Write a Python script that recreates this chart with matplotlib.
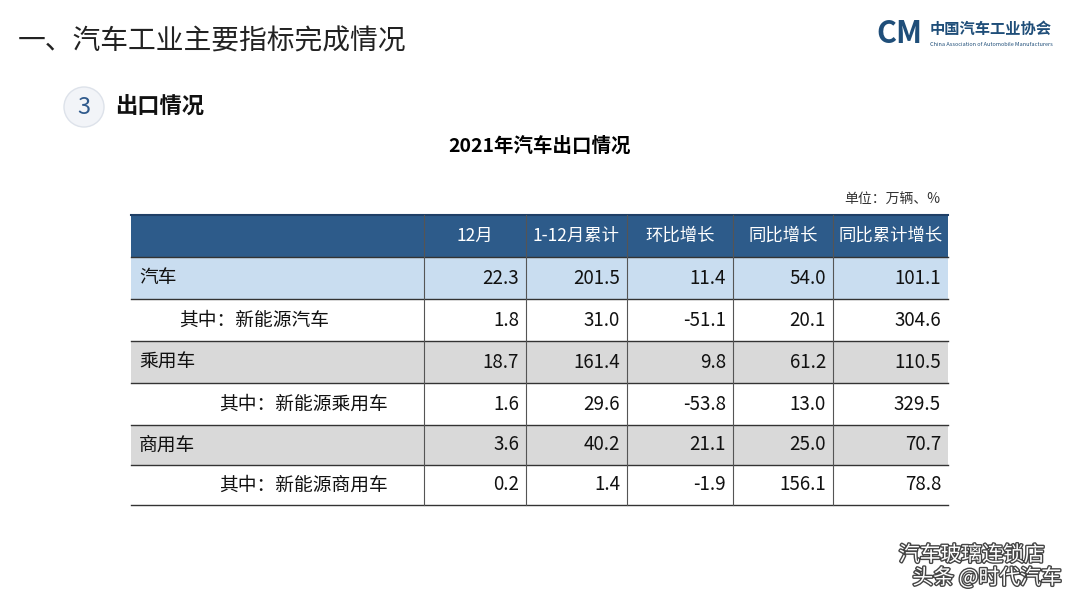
import matplotlib
matplotlib.use('Agg')
from matplotlib import pyplot as plt
from matplotlib import patheffects
from matplotlib.patches import Rectangle, Circle

plt.rcParams['font.family'] = ['Noto Sans CJK SC', 'DejaVu Sans']

#--- data ---#
columns = ['12月', '1-12月累计', '环比增长', '同比增长', '同比累计增长']
row_labels = ['汽车', '其中：新能源汽车', '乘用车', '其中：新能源乘用车', '商用车', '其中：新能源商用车']
dec = [22.3, 1.8, 18.7, 1.6, 3.6, 0.2]
ytd = [201.5, 31.0, 161.4, 29.6, 40.2, 1.4]
mom = [11.4, -51.1, 9.8, -53.8, 21.1, -1.9]
yoy = [54.0, 20.1, 61.2, 13.0, 25.0, 156.1]
yoy_ytd = [101.1, 304.6, 110.5, 329.5, 70.7, 78.8]

#--- layout (pixels) ---#
col_x = [131, 424, 526, 627, 733, 833, 948]
row_y = [215, 257, 299, 341, 383, 425, 465, 505]
label_indent = [8, 48, 8, 88, 8, 88]
row_colors = ['#C9DDF0', 'white', '#D9D9D9', 'white', '#D9D9D9', 'white']

fig = plt.figure(figsize=(10.8, 6.04), dpi=100)
ax = fig.add_axes([0, 0, 1, 1])
ax.set_xlim(0, 1080)
ax.set_ylim(604, 0)
ax.axis('off')

# titles
ax.text(18, 42, '一、汽车工业主要指标完成情况', fontsize=20, va='center', color='#222222')
ax.add_patch(Circle((84, 107), 20, facecolor='#F2F4F8', edgecolor='#DDE2EA', lw=1))
ax.text(84, 107, '3', fontsize=17, ha='center', va='center', color='#2F5A8C')
ax.text(115, 107, '出口情况', fontsize=16, fontweight='bold', va='center', color='#111111')
ax.text(540, 146, '2021年汽车出口情况', fontsize=14, fontweight='bold', ha='center', va='center')
ax.text(940, 200, '单位：万辆、%', fontsize=10, ha='right', va='center', color='#333333')

# logo
ax.text(899, 34, 'CM', fontsize=22, fontweight='bold', style='italic', color='#1F4E79',
        ha='center', va='center')
ax.text(930, 29, '中国汽车工业协会', fontsize=11, fontweight='bold', color='#1F4E79', va='center')
ax.text(930, 45, 'China Association of Automobile Manufacturers', fontsize=4, color='#1F4E79', va='center')

# header
ax.add_patch(Rectangle((col_x[0], row_y[0]), col_x[-1] - col_x[0], row_y[1] - row_y[0],
                       facecolor='#2D5B8A', edgecolor='none'))
for j, c in enumerate(columns):
    ax.text((col_x[j + 1] + col_x[j + 2]) / 2, (row_y[0] + row_y[1]) / 2, c, fontsize=12.5,
            color='white', ha='center', va='center')

# body
values = list(zip(dec, ytd, mom, yoy, yoy_ytd))
for i, lab in enumerate(row_labels):
    y0, y1 = row_y[i + 1], row_y[i + 2]
    ax.add_patch(Rectangle((col_x[0], y0), col_x[-1] - col_x[0], y1 - y0,
                           facecolor=row_colors[i], edgecolor='none'))
    ym = (y0 + y1) / 2
    ax.text(col_x[0] + label_indent[i], ym, lab, fontsize=13.5, va='center', color='#111111')
    for j, v in enumerate(values[i]):
        ax.text(col_x[j + 2] - 7, ym, '%.1f' % v, fontsize=13.5, ha='right', va='center', color='#111111')

# grid lines
for y in row_y[1:]:
    ax.plot([col_x[0], col_x[-1]], [y, y], color='#333333', lw=1)
ax.plot([col_x[0], col_x[-1]], [row_y[0], row_y[0]], color='#1F3F66', lw=1.5)
for x in col_x[1:-1]:
    ax.plot([x, x], [row_y[0], row_y[-1]], color='#555555', lw=0.8)

# watermark text
stroke = [patheffects.withStroke(linewidth=2, foreground='#444444')]
ax.text(1045, 555, '汽车玻璃连锁店', fontsize=15, ha='right', va='center', color='white',
        path_effects=stroke)
ax.text(1062, 578, '头条 @时代汽车', fontsize=15, ha='right', va='center', color='white',
        path_effects=stroke)

fig.savefig('out.png', dpi=100, facecolor='white')
